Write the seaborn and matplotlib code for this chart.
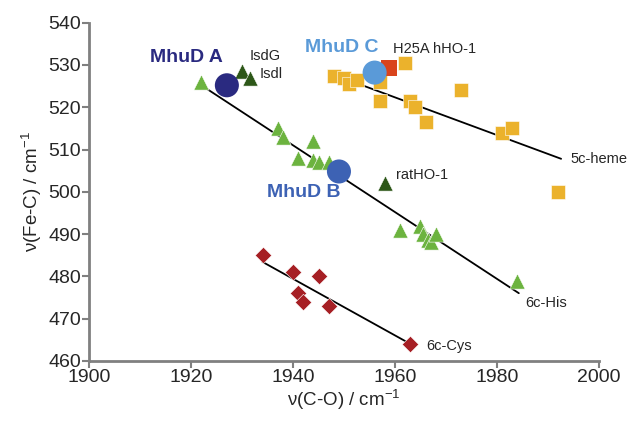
import pandas as pd
import seaborn as sns
import matplotlib.pyplot as plt

# 6c-His (light green triangles)
his_co = [1922, 1937, 1938, 1941, 1944, 1944, 1945, 1947, 1961, 1965, 1965.5, 1966.5, 1967, 1968, 1984]
his_fec = [526, 515, 513, 508, 512, 507.5, 507, 507, 491, 492, 490, 488.5, 488, 490, 479]

# 5c-heme (orange squares)
heme_co = [1948, 1950, 1951, 1952.5, 1957, 1957, 1962, 1963, 1964, 1966, 1973, 1981, 1983, 1992]
heme_fec = [527.5, 527, 525.5, 526.5, 526, 521.5, 530.5, 521.5, 520, 516.5, 524, 514, 515, 500]

# 6c-Cys (red diamonds)
cys_co = [1934, 1940, 1941, 1942, 1945, 1947, 1963]
cys_fec = [485, 481, 476, 474, 480, 473, 464]

# other heme proteins (dark green triangles)
isd_names = ["IsdG", "IsdI", "ratHO-1"]
isd_co = [1930, 1931.5, 1958]
isd_fec = [528.5, 527, 502]

# H25A hHO-1
h25a_co = [1958.8]
h25a_fec = [529.3]

# MhuD forms
mhud_names = ["MhuD A", "MhuD B", "MhuD C"]
mhud_co = [1927, 1949, 1956]
mhud_fec = [525.2, 504.8, 528.2]
mhud_colors = ["#2a2a80", "#3d62b4", "#5a9ad8"]

# fitted trend lines (end points)
fit_names = ["6c-His", "5c-heme", "6c-Cys"]
fit_co = [[1922, 1984.3], [1947.3, 1992.6], [1934, 1963]]
fit_fec = [[525.2, 476], [528, 507.8], [483.4, 464]]

sns.set_style("white")
plt.rcParams["font.family"] = ["Liberation Sans", "DejaVu Sans"]
plt.rcParams["mathtext.default"] = "regular"

fig = plt.figure(figsize=(6.31, 4.21), dpi=100)
ax = fig.add_axes([0.1415, 0.143, 0.8075, 0.803])

for x, y in zip(fit_co, fit_fec):
    sns.lineplot(x=x, y=y, ax=ax, color="black", linewidth=1.3, zorder=1)

sns.scatterplot(x=his_co, y=his_fec, ax=ax, marker="^", s=120, color="#6cb33f",
                edgecolor="white", linewidth=0.4, zorder=3)
sns.scatterplot(x=heme_co, y=heme_fec, ax=ax, marker="s", s=95, color="#ebb22c",
                edgecolor="white", linewidth=0.4, zorder=3)
sns.scatterplot(x=cys_co, y=cys_fec, ax=ax, marker="D", s=70, color="#a61f24",
                edgecolor="white", linewidth=0.4, zorder=3)
sns.scatterplot(x=isd_co, y=isd_fec, ax=ax, marker="^", s=120, color="#2d5718",
                edgecolor="white", linewidth=0.4, zorder=3)
sns.scatterplot(x=h25a_co, y=h25a_fec, ax=ax, marker="s", s=140, color="#d9441c",
                edgecolor="none", zorder=3)
sns.scatterplot(x=mhud_co, y=mhud_fec, ax=ax, marker="o", s=300, hue=mhud_names,
                palette=mhud_colors, edgecolor="none", legend=False, zorder=4)

# labels
ax.text(1919, 531.7, "MhuD A", color=mhud_colors[0], fontsize=14, fontweight="bold",
        ha="center", va="center")
ax.text(1942, 499.8, "MhuD B", color=mhud_colors[1], fontsize=14, fontweight="bold",
        ha="center", va="center")
ax.text(1949.5, 534.2, "MhuD C", color=mhud_colors[2], fontsize=14, fontweight="bold",
        ha="center", va="center")
ax.text(1931.5, 532.1, "IsdG", fontsize=10.5, ha="left", va="center")
ax.text(1933.5, 527.8, "Isdl", fontsize=10.5, ha="left", va="center")
ax.text(1960.2, 504, "ratHO-1", fontsize=10.5, ha="left", va="center")
ax.text(1959.6, 533.7, "H25A hHO-1", fontsize=10.5, ha="left", va="center")
ax.text(1985.6, 473.7, "6c-His", fontsize=10.5, ha="left", va="center")
ax.text(1994.4, 507.7, "5c-heme", fontsize=10.5, ha="left", va="center")
ax.text(1966.2, 463.5, "6c-Cys", fontsize=10.5, ha="left", va="center")

ax.set_xlim(1900, 2000)
ax.set_ylim(460, 540)
ax.set_xticks(range(1900, 2001, 20))
ax.set_yticks(range(460, 541, 10))
ax.set_xlabel("ν(C-O) / cm$^{-1}$", fontsize=13.5, labelpad=1)
ax.set_ylabel("ν(Fe-C) / cm$^{-1}$", fontsize=13.5, labelpad=3)
sns.despine(ax=ax)
for side in ["left", "bottom"]:
    ax.spines[side].set_color("#808080")
    ax.spines[side].set_linewidth(2)
ax.tick_params(axis="both", direction="out", length=5, width=1.5, color="#808080",
               labelsize=14, pad=1, bottom=True, left=True)
ax.grid(False)

fig.savefig("out.png", dpi=100)
